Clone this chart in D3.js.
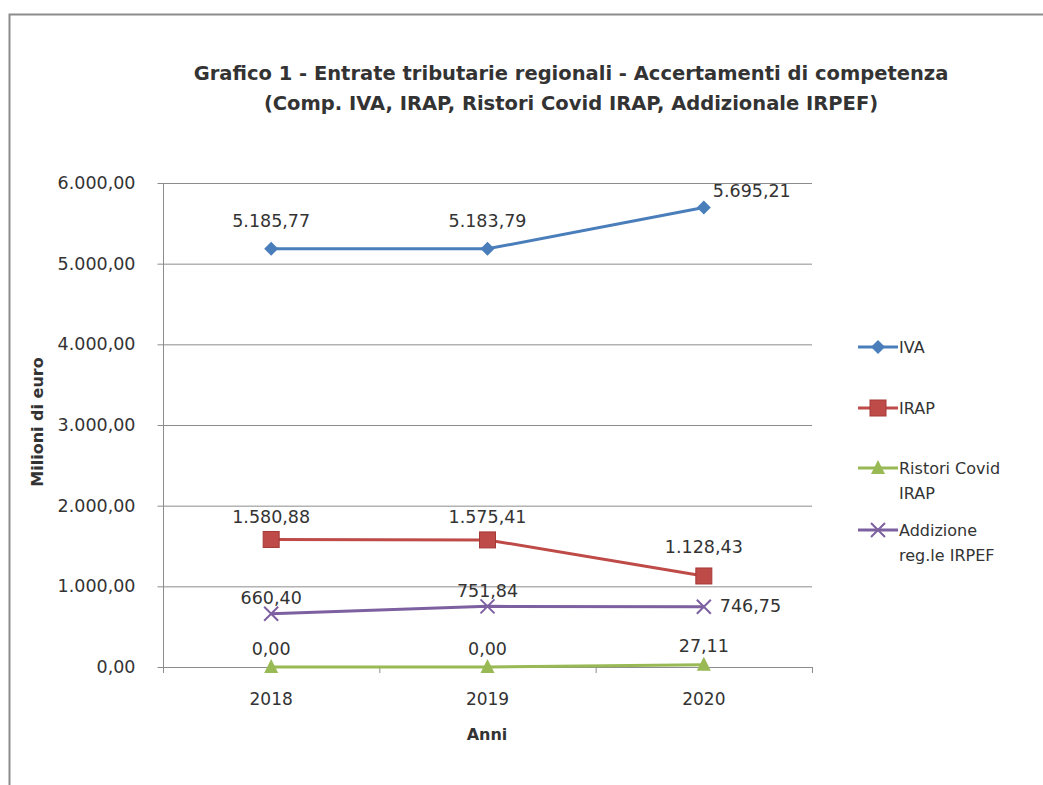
<!DOCTYPE html>
<html><head><meta charset="utf-8">
<script src="https://cdn.jsdelivr.net/npm/d3@7"></script>
<style>body{margin:0;background:#fff}svg{display:block}text{font-family:"DejaVu Sans",sans-serif;fill:#333}</style>
</head><body>
<svg id="c" width="1043" height="785"></svg>
<script>
const categories = ["2018","2019","2020"];
const seriesNames = ["IVA","IRAP","Ristori Covid IRAP","Addizione reg.le IRPEF"];
const ivaValues = [5185.77, 5183.79, 5695.21];
const irapValues = [1580.88, 1575.41, 1128.43];
const ristoriValues = [0, 0, 27.11];
const addizionaleValues = [660.40, 751.84, 746.75];
const yTicks = [0,1000,2000,3000,4000,5000,6000];
const legendLines = [["IVA"],["IRAP"],["Ristori Covid","IRAP"],["Addizione","reg.le IRPEF"]];

const fmt = v => { const s = d3.format(",.2f")(v); return s.replace(/,/g,"#").replace(".",",").replace(/#/g,"."); };

// label placement styles: [dx, dy(baseline), anchor]
const series = [
  {name:seriesNames[0], values:ivaValues, color:"#4a7ebb", marker:"diamond", label:[[0,-21.5,"middle"],[0,-21.5,"middle"],[9,-10.5,"start"]]},
  {name:seriesNames[1], values:irapValues, color:"#be4b48", marker:"square", label:[[0,-16.5,"middle"],[0,-16.5,"middle"],[0,-22.5,"middle"]]},
  {name:seriesNames[2], values:ristoriValues, color:"#98b954", marker:"triangle", label:[[0,-12.5,"middle"],[0,-12.5,"middle"],[0,-12.5,"middle"]]},
  {name:seriesNames[3], values:addizionaleValues, color:"#7d60a0", marker:"x", label:[[0,-9.5,"middle"],[0,-9.5,"middle"],[16,5,"start"]]}
];

const svg = d3.select("#c");
svg.append("path").attr("d","M9.5,1043 V14.5 H1043").attr("fill","none").attr("stroke","#8c8c8c").attr("stroke-width",2);

const m = {left:163, right:812, top:183, bottom:667};
const x = d3.scaleBand().domain(categories).range([m.left, m.right]);
const y = d3.scaleLinear().domain([0,6000]).range([m.bottom, m.top]);

svg.append("g").selectAll("line").data(yTicks.filter(d=>d>0)).join("line")
  .attr("x1",m.left).attr("x2",m.right).attr("y1",d=>y(d)+0.5).attr("y2",d=>y(d)+0.5)
  .attr("stroke","#8c8c8c").attr("stroke-width",1);

const yAxis = svg.append("g").attr("transform",`translate(${m.left+0.5},0)`)
  .call(d3.axisLeft(y).tickValues(yTicks).tickSize(6).tickPadding(22).tickFormat(fmt));
yAxis.select(".domain").attr("stroke","#8c8c8c").attr("d",`M0,${m.top}V${m.bottom}`);
yAxis.selectAll(".tick line").attr("stroke","#8c8c8c");
yAxis.selectAll(".tick text").attr("font-size",17.5).attr("fill","#333").style("font-family","'DejaVu Sans',sans-serif");

const xAxis = svg.append("g").attr("transform",`translate(0,${m.bottom+0.5})`)
  .call(d3.axisBottom(x).tickSize(0).tickPadding(25));
xAxis.select(".domain").attr("stroke","#8c8c8c").attr("d",`M${m.left},0H${m.right}`);
xAxis.selectAll(".tick text").attr("font-size",17).attr("fill","#333").style("font-family","'DejaVu Sans',sans-serif");
const bounds = categories.map(c=>x(c)).concat([m.right]);
svg.append("g").selectAll("line").data(bounds).join("line")
  .attr("x1",d=>d+0.5).attr("x2",d=>d+0.5).attr("y1",m.bottom).attr("y2",m.bottom+6)
  .attr("stroke","#8c8c8c");

const title = svg.append("text").attr("x",571).attr("y",80).attr("text-anchor","middle")
  .attr("font-size",19.5).attr("font-weight","bold");
title.append("tspan").attr("x",571).attr("dy",0).text("Grafico 1 - Entrate tributarie regionali - Accertamenti di competenza");
title.append("tspan").attr("x",571).attr("dy",30).text("(Comp. IVA, IRAP, Ristori Covid IRAP, Addizionale IRPEF)");

svg.append("text").attr("transform","translate(43,422) rotate(-90)").attr("text-anchor","middle")
  .attr("font-size",16).attr("font-weight","bold").text("Milioni di euro");
svg.append("text").attr("x",487).attr("y",740).attr("text-anchor","middle")
  .attr("font-size",16).attr("font-weight","bold").text("Anni");

const cx = c => x(c) + x.bandwidth()/2;

function drawMarker(g, type, color){
  if(type==="diamond") g.append("path").attr("d","M0,-7L7,0L0,7L-7,0Z").attr("fill",color);
  else if(type==="square") g.append("rect").attr("x",-8).attr("y",-8).attr("width",16).attr("height",16).attr("fill",color).attr("stroke","#a33a37").attr("stroke-width",1);
  else if(type==="triangle") g.append("path").attr("d","M0,-8L7,6L-7,6Z").attr("fill",color);
  else if(type==="x") g.append("path").attr("d","M-7,-7L7,7M-7,7L7,-7").attr("stroke",color).attr("stroke-width",2);
}

const line = d3.line().x((d,i)=>cx(categories[i])).y(d=>y(d));
series.forEach(s=>{
  const g = svg.append("g");
  g.append("path").datum(s.values).attr("d",line).attr("fill","none").attr("stroke",s.color).attr("stroke-width",3);
  s.values.forEach((v,i)=>{
    const mg = g.append("g").attr("transform",`translate(${cx(categories[i])},${y(v)})`);
    drawMarker(mg, s.marker, s.color);
    const [dx,dy,anchor] = s.label[i];
    g.append("text").attr("font-size",17.5).text(fmt(v))
      .attr("x",cx(categories[i])+dx).attr("y",y(v)+dy).attr("text-anchor",anchor);
  });
});

const legY = [347, 408, 468, 530];
series.forEach((s,i)=>{
  const g = svg.append("g").attr("transform",`translate(858,${legY[i]})`);
  g.append("line").attr("x1",0).attr("x2",40).attr("y1",0).attr("y2",0).attr("stroke",s.color).attr("stroke-width",3);
  const mg = g.append("g").attr("transform","translate(20,0)");
  drawMarker(mg, s.marker, s.color);
  const t = g.append("text").attr("x",41).attr("y",6).attr("font-size",16);
  legendLines[i].forEach((l,j)=>t.append("tspan").attr("x",41).attr("dy",j?25:0).text(l));
});
</script>
</body></html>
